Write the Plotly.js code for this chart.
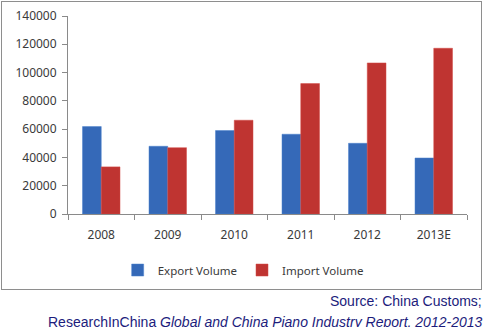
<!DOCTYPE html>
<html>
<head>
<meta charset="utf-8">
<script src="https://cdn.plot.ly/plotly-3.0.1.min.js"></script>
<style>
html,body{margin:0;padding:0;background:#fff;}
#frame{position:absolute;left:1px;top:1px;width:479px;height:287px;border:1px solid #8e8e8e;box-sizing:content-box;}
#chart{position:absolute;left:0;top:0;width:484px;height:327px;}
</style>
</head>
<body>
<div id="frame"></div>
<div id="chart"></div>
<script>
const years = ["2008", "2009", "2010", "2011", "2012", "2013E"];
const exportVolume = [61800, 47900, 59000, 56400, 50000, 39600];
const importVolume = [33300, 46900, 66300, 92200, 106800, 117200];
const seriesNames = ["Export Volume", "Import Volume"];
const yTicks = [0, 20000, 40000, 60000, 80000, 100000, 120000, 140000];

const tickFont = {family: "Noto Sans, Open Sans, sans-serif", size: 12, color: "#3a3a3a"};

const traces = [
  {type: "bar", name: seriesNames[0], x: years, y: exportVolume,
   marker: {color: "#3569b8", line: {color: "#4a80cc", width: 0.5}}},
  {type: "bar", name: seriesNames[1], x: years, y: importVolume,
   marker: {color: "#bf3431", line: {color: "#d24a47", width: 0.5}}}
];

const layout = {
  width: 484, height: 327,
  margin: {l: 68, r: 17, t: 16, b: 113},
  paper_bgcolor: "rgba(0,0,0,0)",
  plot_bgcolor: "rgba(0,0,0,0)",
  barmode: "group",
  bargap: 0.436,
  bargroupgap: 0,
  showlegend: true,
  legend: {orientation: "h", x: 0.439, xanchor: "center", y: -0.283, yanchor: "middle",
           font: {family: "Noto Sans, Open Sans, sans-serif", size: 11.5, color: "#3a3a3a"},
           itemwidth: 30, tracegroupgap: 0},
  xaxis: {type: "category", showline: true, linecolor: "#8a8a8a", linewidth: 1,
          ticks: "outside", tickson: "boundaries", ticklen: 5, tickcolor: "#8a8a8a",
          tickfont: tickFont, showgrid: false, zeroline: false, fixedrange: true,
          ticklabelstandoff: 10},
  yaxis: {range: [0, 140000], tickvals: yTicks, ticktext: yTicks.map(String),
          showline: true, linecolor: "#8a8a8a", linewidth: 1,
          ticks: "outside", ticklen: 5, tickcolor: "#8a8a8a",
          tickfont: tickFont, showgrid: false, zeroline: false, ticklabelstandoff: 3},
  annotations: [
    {xref: "paper", yref: "paper", x: 1.043, y: -0.439, xanchor: "right", yanchor: "middle",
     showarrow: false, text: "Source: China Customs;",
     font: {family: "Liberation Sans, Arial, sans-serif", size: 14, color: "#1c1c7c"}},
    {xref: "paper", yref: "paper", x: 1.043, y: -0.545, xanchor: "right", yanchor: "middle",
     showarrow: false, text: "ResearchInChina <i>Global and China Piano Industry Report, 2012-2013</i>",
     font: {family: "Liberation Sans, Arial, sans-serif", size: 14, color: "#1c1c7c"}}
  ]
};

Plotly.newPlot("chart", traces, layout, {displayModeBar: false, staticPlot: true});
</script>
</body>
</html>
